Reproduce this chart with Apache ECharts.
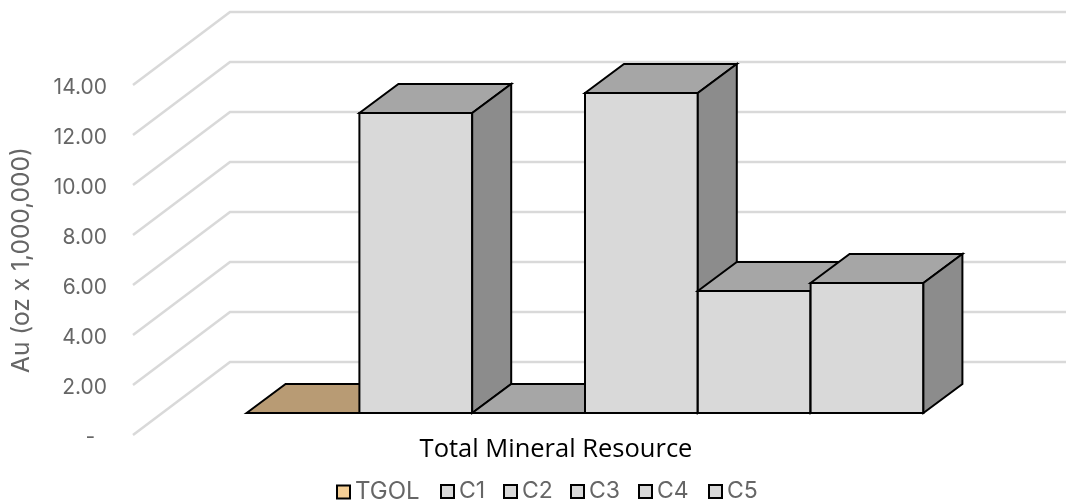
<!DOCTYPE html>
<html>
<head>
<meta charset="utf-8">
<style>html,body{margin:0;padding:0;background:#fff}#c{width:1066px;height:503px}</style>
<script src="https://cdn.jsdelivr.net/npm/echarts@6/dist/echarts.min.js"></script>
</head>
<body>
<div id="c"></div>
<script>
const categories = ['Total Mineral Resource'];
const seriesNames = ['TGOL', 'C1', 'C2', 'C3', 'C4', 'C5'];
const seriesValues = [0, 12.0, 0, 12.8, 4.88, 5.2];
const yTicks = [0, 2, 4, 6, 8, 10, 12, 14];

const frontColors = ['#F5CF96', '#D9D9D9', '#D9D9D9', '#D9D9D9', '#D9D9D9', '#D9D9D9'];
const topColors   = ['#B89B74', '#A6A6A6', '#A6A6A6', '#A6A6A6', '#A6A6A6', '#A6A6A6'];
const sideColors  = ['#8F7A5C', '#8C8C8C', '#8C8C8C', '#8C8C8C', '#8C8C8C', '#8C8C8C'];
const legendLefts = [336, 440, 503, 570, 638, 708];
const legendFontSizes = [24, 23, 23, 23, 23, 23];

const wallDX = 97, wallDY = 73;    // projected depth of the floor
const gapDX = 29, gapDY = 22;      // gap in front of the bars
const barDX = 39, barDY = 29;      // projected depth of a bar
const bandFraction = 0.8;

const chart = echarts.init(document.getElementById('c'), null, {renderer: 'canvas'});

function renderGrid(params, api) {
  const p = api.coord([0, api.value(0)]);
  const cs = params.coordSys;
  const x0 = cs.x, y = p[1];
  return {
    type: 'polyline',
    silent: true,
    shape: {points: [[x0, y], [x0 + wallDX, y - wallDY], [1066, y - wallDY]]},
    style: {stroke: '#D9D9D9', lineWidth: 2.5, fill: null, lineJoin: 'miter'}
  };
}

function makeBarRenderer(i) {
  return function (params, api) {
    const v = api.value(1);
    const top = api.coord([0, v]);
    const base = api.coord([0, 0]);
    const band = api.size([1, 0])[0];
    const w = band * bandFraction / seriesNames.length;
    const xl = top[0] - band * bandFraction / 2 + i * w + gapDX;
    const xr = xl + w;
    const yb = base[1] - gapDY;
    const yt = top[1] - gapDY;
    const edge = {stroke: '#000', lineWidth: 2, lineJoin: 'miter'};
    const poly = (pts, fill) => ({
      type: 'polygon', silent: true,
      shape: {points: pts},
      style: Object.assign({fill}, edge)
    });
    return {
      type: 'group',
      children: [
        poly([[xl, yb], [xr, yb], [xr, yt], [xl, yt]], frontColors[i]),
        poly([[xl, yt], [xl + barDX, yt - barDY], [xr + barDX, yt - barDY], [xr, yt]], topColors[i]),
        poly([[xr, yb], [xr + barDX, yb - barDY], [xr + barDX, yt - barDY], [xr, yt]], sideColors[i])
      ]
    };
  };
}

const series = [{
  type: 'custom',
  name: 'grid',
  coordinateSystem: 'cartesian2d',
  renderItem: renderGrid,
  data: yTicks.map(t => [t]),
  encode: {y: 0},
  clip: false,
  silent: true
}];
seriesNames.forEach((n, i) => {
  series.push({
    type: 'custom',
    name: n,
    coordinateSystem: 'cartesian2d',
    renderItem: makeBarRenderer(i),
    data: [[0, seriesValues[i]]],
    encode: {x: 0, y: 1},
    itemStyle: {color: frontColors[i]},
    clip: false
  });
});

chart.setOption({
  animation: false,
  backgroundColor: '#fff',
  grid: {left: 133, top: 85, width: 846, height: 350, containLabel: false},
  xAxis: {
    type: 'category',
    data: categories,
    axisLine: {show: false},
    axisTick: {show: false},
    splitLine: {show: false},
    axisLabel: {fontFamily: 'Open Sans', fontSize: 25.5, color: '#000', margin: 0, lineHeight: 30}
  },
  yAxis: {
    type: 'value',
    min: 0,
    max: 14,
    interval: 2,
    axisLine: {show: false},
    axisTick: {show: false},
    splitLine: {show: false},
    axisLabel: {
      margin: 26,
      formatter: v => '{t|' + (v === 0 ? '-  ' : v.toFixed(2)) + '}',
      rich: {t: {fontFamily: 'Inter', fontSize: 21, color: '#666', padding: [5, 0, 0, 0]}}
    },
    name: 'Au (oz x 1,000,000)',
    nameLocation: 'middle',
    nameRotate: 90,
    nameGap: 99,
    nameTextStyle: {fontFamily: 'Inter', fontSize: 24.5, color: '#666'}
  },
  legend: seriesNames.map((n, i) => ({
    show: true,
    left: legendLefts[i],
    top: 480,
    icon: 'rect',
    itemWidth: 13,
    itemHeight: 13,
    padding: 0,
    selectedMode: false,
    textStyle: {fontFamily: 'Inter', fontSize: legendFontSizes[i], color: '#666'},
    data: [{
      name: n,
      icon: 'rect',
      itemStyle: {color: frontColors[i], borderColor: '#000', borderWidth: 2}
    }]
  })),
  series
});
</script>
</body>
</html>
